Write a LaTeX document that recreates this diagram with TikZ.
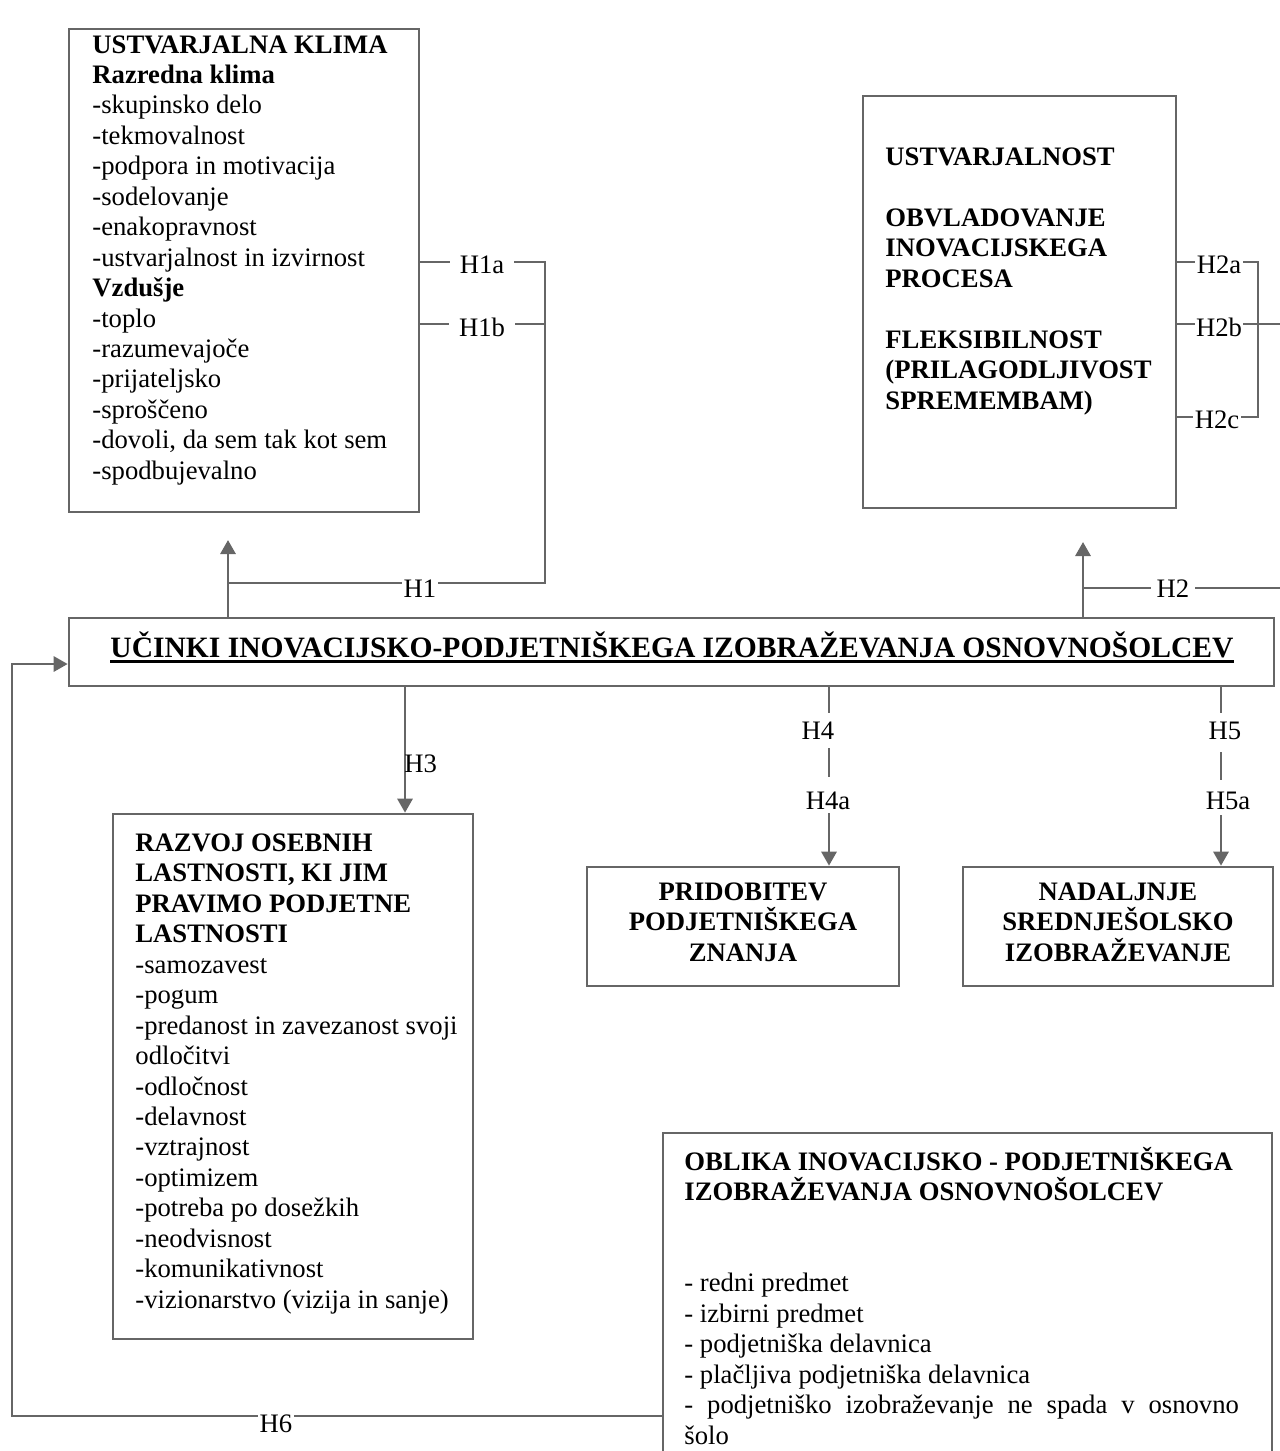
\documentclass[tikz,border=0pt]{standalone}
\usepackage{fontspec}
\setmainfont{Liberation Serif}
\usetikzlibrary{arrows.meta,fit}
\definecolor{linegray}{RGB}{102,102,102}
% bold heading with a heavy underline
\newcommand{\heavyul}[1]{\setbox0=\hbox{#1}\makebox[0pt][l]{\rule[-2.6pt]{\wd0}{1.15pt}}\box0}

\begin{document}
\begin{tikzpicture}[x=0.45pt,y=-0.45pt,
  every node/.style={font=\fontsize{12pt}{13.7pt}\selectfont},
  frame/.style={draw=linegray,line width=1.2pt,inner sep=0pt},
  link/.style={draw=linegray,line width=1.2pt},
  tip/.style={link,-{Triangle[width=6.8pt,length=6.3pt]}},
  hlabel/.style={fill=white,inner ysep=0.5pt,inner xsep=#1},
  hlabel/.default=0.6pt,
  gaplabel/.style 2 args={fill=white,anchor=base,inner ysep=0pt,inner xsep=1pt,
    text height=#1,text depth=#2},
  body/.style={anchor=base west,inner sep=0pt,align=flush left,text width=#1},
  head/.style={anchor=base,inner sep=0pt,align=flush center,text width=#1,
    font=\fontsize{12pt}{13.7pt}\selectfont\bfseries},
]
\useasboundingbox (0,0) rectangle (1280,1451);
\clip (0,0) rectangle (1280,1451);

% ---------- boxes ----------
\node[frame,fit={(69,29)(419,512)}]     (klima)   {};
\node[frame,fit={(863,96)(1176,508)}]   (ustv)    {};
\node[frame,fit={(69,618)(1274,686)}]   (ucinki)  {};
\node[frame,fit={(113,814)(473,1339)}]  (razvoj)  {};
\node[frame,fit={(587,867)(899,986)}]   (znanje)  {};
\node[frame,fit={(963,867)(1273,986)}]  (solanje) {};
\node[frame,fit={(663,1133)(1272,1480)}] (oblika) {};

% ---------- box texts ----------
\node[body=160pt] (klimatxt) at (92,53) {%
\textbf{USTVARJALNA KLIMA}\\
\textbf{Razredna klima}\\
-skupinsko delo\\
-tekmovalnost\\
-podpora in motivacija\\
-sodelovanje\\
-enakopravnost\\
-ustvarjalnost in izvirnost\\
\textbf{Vzdušje}\\
-toplo\\
-razumevajoče\\
-prijateljsko\\
-sproščeno\\
-dovoli, da sem tak kot sem\\
-spodbujevalno};

\node[body=140pt,font=\fontsize{12pt}{13.7pt}\selectfont\bfseries] (ustvtxt) at (885,165.5) {%
USTVARJALNOST\\[13.7pt]
OBVLADOVANJE\\
INOVACIJSKEGA\\
PROCESA\\[13.7pt]
FLEKSIBILNOST\\
(PRILAGODLJIVOST\\
SPREMEMBAM)};

\node[anchor=base,inner sep=0pt,font=\fontsize{13.3pt}{15pt}\selectfont\bfseries]
  (ucinkitxt) at (672,657)
  {\heavyul{UČINKI INOVACIJSKO-PODJETNIŠKEGA IZOBRAŽEVANJA OSNOVNOŠOLCEV}};

\node[body=160pt] (razvojtxt) at (135,851.5) {%
\textbf{RAZVOJ OSEBNIH}\\
\textbf{LASTNOSTI, KI JIM}\\
\textbf{PRAVIMO PODJETNE}\\
\textbf{LASTNOSTI}\\
-samozavest\\
-pogum\\
-predanost in zavezanost svoji\\
odločitvi\\
-odločnost\\
-delavnost\\
-vztrajnost\\
-optimizem\\
-potreba po dosežkih\\
-neodvisnost\\
-komunikativnost\\
-vizionarstvo (vizija in sanje)};

\node[head=135pt] (znanjetxt) at (743,900.5) {PRIDOBITEV\\ PODJETNIŠKEGA\\ ZNANJA};
\node[head=135pt] (solanjetxt) at (1118,900.5) {NADALJNJE\\ SREDNJEŠOLSKO\\ IZOBRAŽEVANJE};

\node[body=260pt] (oblikatxt) at (684,1170) {%
\textbf{OBLIKA INOVACIJSKO - PODJETNIŠKEGA}\\
\textbf{IZOBRAŽEVANJA OSNOVNOŠOLCEV}\\[27.4pt]
- redni predmet\\
- izbirni predmet\\
- podjetniška delavnica\\
- plačljiva podjetniška delavnica\\
\makebox[249.5pt][s]{- podjetniško izobraževanje ne spada v osnovno}\\
šolo};

% ---------- H1: effects on the creative climate ----------
\coordinate (h1bend)   at (228,583);
\coordinate (h1tip)    at (228,540);
\coordinate (h1corner) at (545,583);
\coordinate (h1top)    at (545,262);
\coordinate (h1mid)    at (545,324);
\draw[tip]  (ucinki.north -| h1bend) -- (h1tip);
\draw[link] (h1bend) -- (h1corner) -- (h1top) -- (klima.east |- h1top);
\draw[link] (h1mid) -- (klima.east |- h1mid);
\node[hlabel]       (lh1)  at (420,589) {H1};
\node[hlabel=4.5pt] (lh1a) at (482,265) {H1a};
\node[hlabel=4.5pt] (lh1b) at (482,327) {H1b};

% ---------- H2: effects on creativity ----------
\coordinate (h2bend) at (1083,588);
\coordinate (h2tip)  at (1083,542);
\coordinate (h2out)  at (1290,588);
\coordinate (h2a)    at (1258,262);
\coordinate (h2b)    at (1258,324);
\coordinate (h2c)    at (1258,417);
\coordinate (h2bout) at (1290,324);
\draw[tip]  (ucinki.north -| h2bend) -- (h2tip);
\draw[link] (h2bend) -- (h2out);
\draw[link] (ustv.east |- h2a) -- (h2a) -- (h2c) -- (ustv.east |- h2c);
\draw[link] (ustv.east |- h2b) -- (h2bout);
\node[hlabel=2.5pt] (lh2)  at (1173,589) {H2};
\node[hlabel]       (lh2a) at (1219,265) {H2a};
\node[hlabel]       (lh2b) at (1219,327) {H2b};
\node[hlabel]       (lh2c) at (1217,420) {H2c};

% ---------- H3, H4, H5: downward effects ----------
\coordinate (h3x) at (405,0);
\coordinate (h4x) at (829,0);
\coordinate (h5x) at (1221,0);
\draw[tip] (ucinki.south -| h3x) -- (razvoj.north -| h3x);
\draw[tip] (ucinki.south -| h4x) -- (znanje.north -| h4x);
\draw[tip] (ucinki.south -| h5x) -- (solanje.north -| h5x);
\node[anchor=west,inner sep=0pt] (lh3) at (404,764) {H3};
\node[gaplabel={11.7pt}{4pt}]    (lh4)  at (818,739)  {H4};
\node[gaplabel={14.4pt}{1.8pt}]  (lh4a) at (828,809)  {H4a};
\node[gaplabel={11.7pt}{5.85pt}] (lh5)  at (1225,739) {H5};
\node[gaplabel={13pt}{2.7pt}]    (lh5a) at (1228,809) {H5a};

% ---------- H6: feedback from the form of education ----------
\coordinate (h6low)  at (12,1416);
\coordinate (h6high) at (12,664);
\draw[tip] (oblika.west |- h6low) -- (h6low) -- (h6high) -- (ucinki.west |- h6high);
\node[hlabel] (lh6) at (276,1424) {H6};
\end{tikzpicture}
\end{document}
